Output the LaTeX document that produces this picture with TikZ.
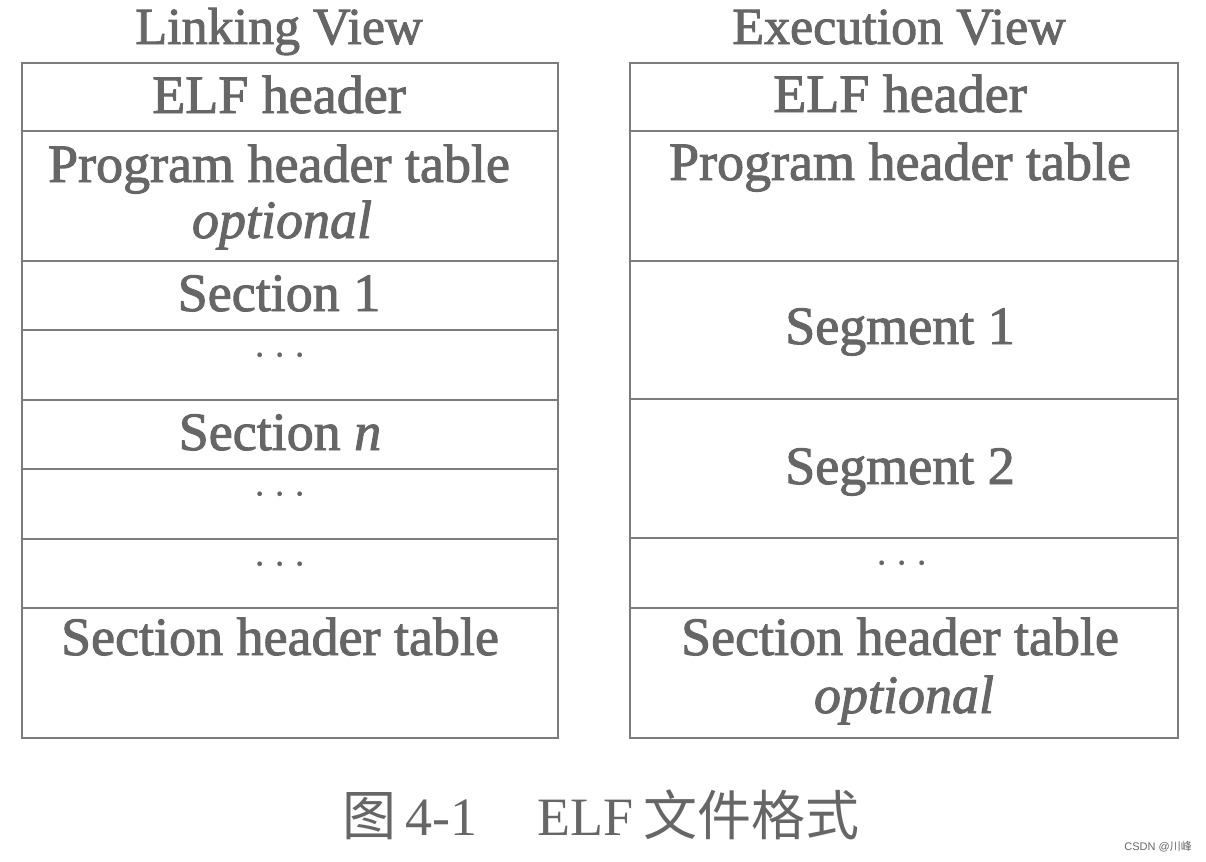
\documentclass[tikz,border=0pt]{standalone}
\usepackage{fontspec}
\setmainfont{Liberation Serif}
\newfontfamily\lb[FakeBold=1.8]{Liberation Serif}
\newfontfamily\cjk{Noto Sans CJK SC}
\newfontfamily\wmfont{Liberation Sans}
\definecolor{txt}{HTML}{666666}
\definecolor{ln}{HTML}{7C7C7C}
\begin{document}
\begin{tikzpicture}[x=1bp,y=-1bp,
  cell/.style={draw=ln,line width=2.8bp},
  lbl/.style={anchor=base,text=txt,inner sep=0pt,font=\fontsize{54bp}{60bp}\lb},
  ttl/.style={anchor=base,text=txt,inner sep=0pt,font=\fontsize{52bp}{60bp}\lb},
  dots/.style={anchor=base,text=txt,inner sep=0pt,font=\fontsize{40bp}{40bp}\selectfont}]
\useasboundingbox[fill=white] (0,0) rectangle (1206,862);
% titles
\node[ttl] (lt) at (279,44) {Linking View};
\node[ttl] (et) at (899,44) {Execution View};
% left table
\draw[cell] (22,63) rectangle (558,738);
\foreach \y in {131,261,330,400,469,539,608} \draw[cell] (22,\y) -- (558,\y);
\node[lbl] (l1) at (279,113) {ELF header};
\node[lbl,font=\fontsize{54bp}{60bp}\lb\itshape] (l2b) at (282,238) {optional};
\node[lbl] (l2) at (279,182) {Program header table};
\node[lbl] (l3) at (279,311) {Section 1};
\node[dots] (l4) at (280,368) {·\,·\,·};
\node[lbl] (l5) at (280,450) {Section \textit{n}};
\node[dots] (l6) at (280,507) {·\,·\,·};
\node[dots] (l7) at (280,577) {·\,·\,·};
\node[lbl] (l8) at (280,655) {Section header table};
% right table
\draw[cell] (630,63) rectangle (1178,738);
\foreach \y in {131,261,399,538,608} \draw[cell] (630,\y) -- (1178,\y);
\node[lbl] (r1) at (900,112) {ELF header};
\node[lbl] (r2) at (900,180) {Program header table};
\node[lbl] (r3) at (900,344) {Segment 1};
\node[lbl] (r4) at (900,484) {Segment 2};
\node[dots] (r5) at (902,576) {·\,·\,·};
\node[lbl] (r6) at (900,655) {Section header table};
\node[lbl,font=\fontsize{54bp}{60bp}\lb\itshape] (r7) at (904,713) {optional};
% caption
\node[anchor=base west,text=txt,inner sep=0pt,font=\fontsize{54bp}{60bp}\selectfont] (cap) at (342,835)
  {{\cjk 图}\hspace{9bp}4-1\hspace{60bp}ELF\hspace{10bp}{\cjk 文件格式}};
% watermark
\node[anchor=base east,text=txt,inner sep=0pt,font=\fontsize{11bp}{12bp}\selectfont] (wm) at (1192,850)
  {\wmfont CSDN @{\cjk 川峰}};
\end{tikzpicture}
\end{document}
